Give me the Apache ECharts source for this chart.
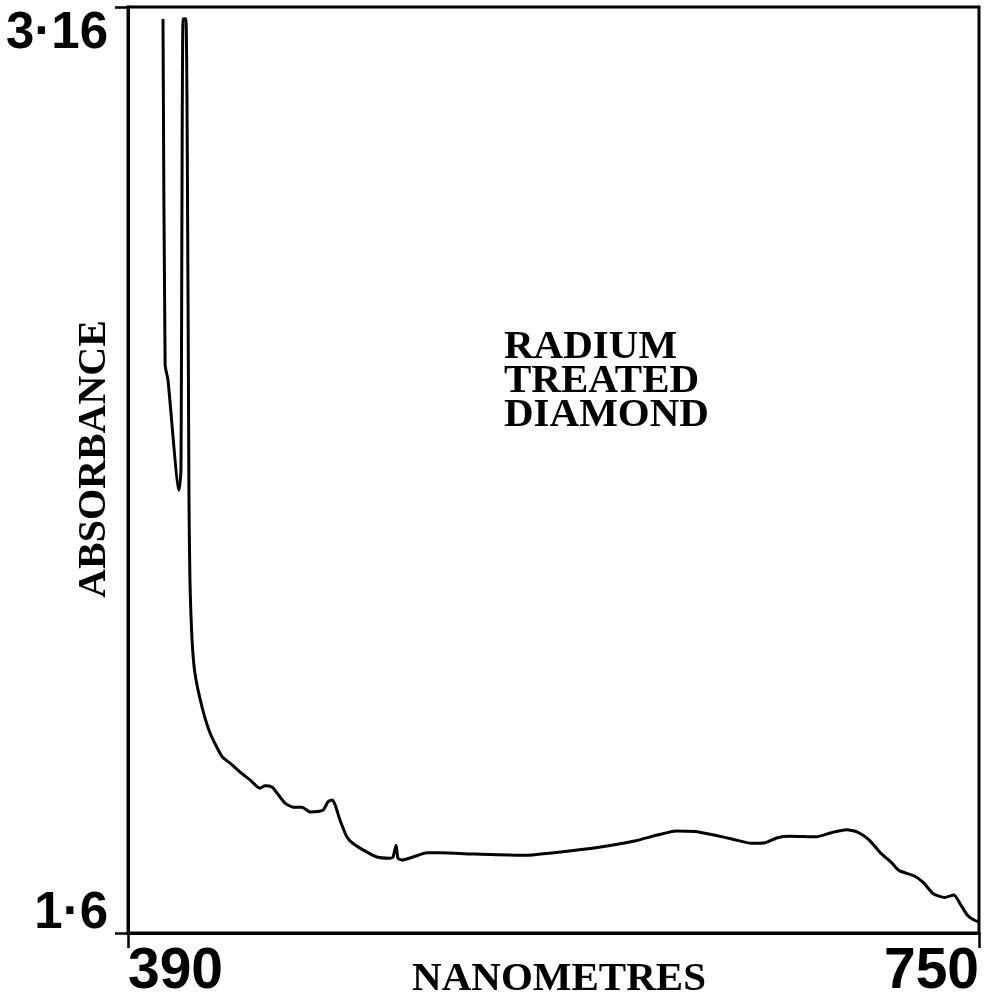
<!DOCTYPE html>
<html>
<head>
<meta charset="utf-8">
<script src="https://cdn.jsdelivr.net/npm/echarts@6/dist/echarts.min.js"></script>
<style>
html,body{margin:0;padding:0;background:#fff;}
#chart{width:993px;height:1001px;}
</style>
</head>
<body>
<div id="chart"></div>
<script>
// Wavelength (nm) and absorbance
var wavelengths = [404.8, 405.7, 406.9, 411.6, 412.4, 413.3, 414.5, 415.4, 415.8, 416.2, 417.1, 418.3, 421.3, 424.7, 429.8, 433.2, 437.4, 441.6, 445.8, 448.0, 450.9, 453.0, 456.4, 459.8, 463.6, 467.0, 472.5, 474.6, 476.3, 477.6, 479.7, 482.6, 484.8, 489.4, 495.3, 500.8, 502.1, 503.4, 504.2, 505.9, 510.6, 516.5, 522.0, 537.0, 557.9, 573.9, 589.9, 604.3, 613.9, 621.9, 629.9, 637.9, 645.9, 653.8, 659.5, 665.1, 669.9, 681.1, 687.5, 693.9, 698.6, 703.5, 708.3, 713.1, 716.2, 722.7, 726.7, 730.7, 735.5, 739.4, 741.9, 745.1, 748.3, 750.0];
var absorbance  = [3.14, 2.557, 2.532, 2.346, 2.38, 3.14, 3.14, 2.666, 2.329, 2.195, 2.094, 2.038, 1.981, 1.937, 1.897, 1.886, 1.871, 1.858, 1.844, 1.848, 1.846, 1.836, 1.819, 1.812, 1.812, 1.804, 1.807, 1.821, 1.824, 1.816, 1.79, 1.762, 1.752, 1.74, 1.728, 1.726, 1.728, 1.748, 1.726, 1.723, 1.728, 1.735, 1.735, 1.733, 1.731, 1.737, 1.745, 1.755, 1.765, 1.772, 1.771, 1.765, 1.758, 1.751, 1.752, 1.761, 1.763, 1.762, 1.769, 1.774, 1.77, 1.757, 1.735, 1.718, 1.705, 1.696, 1.684, 1.666, 1.66, 1.664, 1.65, 1.63, 1.621, 1.619];

var xTickValues = [390, 750];
var xTickLabels = ['390', '750'];
var yTickValues = [1.6, 3.16];
var yTickLabels = ['1·6', '3·16'];
var titleLines = ['RADIUM', 'TREATED', 'DIAMOND'];
var xName = 'NANOMETRES';
var yName = 'ABSORBANCE';

var seriesData = wavelengths.map(function (w, i) { return [w, absorbance[i]]; });

var chart = echarts.init(document.getElementById('chart'), null, {renderer: 'canvas'});
var numFont = '"Liberation Sans", Arial, sans-serif';
var serifFont = '"Liberation Serif", "Times New Roman", serif';

chart.setOption({
  backgroundColor: '#fff',
  animation: false,
  title: {
    text: titleLines.join('\n'),
    left: 504,
    top: 330,
    padding: 0,
    textStyle: {
      fontFamily: serifFont,
      fontWeight: 'bold',
      fontSize: 41,
      lineHeight: 34,
      color: '#000'
    }
  },
  grid: {
    left: 128, right: 14, top: 7, bottom: 68,
    containLabel: false,
    outerBoundsMode: 'none',
    show: true, borderColor: '#000', borderWidth: 3, backgroundColor: 'transparent'
  },
  xAxis: {
    type: 'value',
    min: xTickValues[0],
    max: xTickValues[1],
    splitLine: {show: false},
    axisLine: {show: true, lineStyle: {color: '#000', width: 3}},
    axisTick: {show: true, customValues: xTickValues, length: 15, inside: false, lineStyle: {color: '#000', width: 2.5}},
    axisLabel: {
      customValues: xTickValues,
      margin: 11,
      color: '#000',
      formatter: function (v) {
        var i = xTickValues.indexOf(v);
        return i === 0 ? '{l|' + xTickLabels[0] + '}' : '{r|' + xTickLabels[1] + '}';
      },
      rich: {
        l: {fontFamily: numFont, fontWeight: 'bold', fontSize: 57, color: '#000', padding: [0, 0, 0, 95]},
        r: {fontFamily: numFont, fontWeight: 'bold', fontSize: 57, color: '#000', padding: [0, 95, 0, 0]}
      }
    },
    name: xName,
    nameLocation: 'middle',
    nameGap: 26,
    nameMoveOverlap: false,
    nameTextStyle: {fontFamily: serifFont, fontWeight: 'bold', fontSize: 41, color: '#000', padding: [0, 0, 0, 11]}
  },
  yAxis: {
    type: 'value',
    min: yTickValues[0],
    max: yTickValues[1],
    splitLine: {show: false},
    axisLine: {show: true, lineStyle: {color: '#000', width: 3}},
    axisTick: {show: true, customValues: yTickValues, length: 13, inside: false, lineStyle: {color: '#000', width: 2.5}},
    axisLabel: {
      customValues: yTickValues,
      margin: 20,
      color: '#000',
      formatter: function (v) {
        var i = Math.abs(v - yTickValues[0]) < 0.01 ? 0 : 1;
        return i === 0 ? '{b|' + yTickLabels[0] + '}' : '{t|' + yTickLabels[1] + '}';
      },
      rich: {
        b: {fontFamily: numFont, fontWeight: 'bold', fontSize: 51, color: '#000', padding: [0, 0, 38, 0]},
        t: {fontFamily: numFont, fontWeight: 'bold', fontSize: 51, color: '#000', padding: [54, 0, 0, 0]}
      }
    },
    name: yName,
    nameLocation: 'middle',
    nameRotate: 90,
    nameGap: 13,
    nameMoveOverlap: false,
    nameTextStyle: {fontFamily: serifFont, fontWeight: 'bold', fontSize: 40, color: '#000', padding: [0, 0, 0, 22]}
  },
  series: [{
    type: 'line',
    data: seriesData,
    showSymbol: false,
    smooth: 0.2,
    clip: true,
    lineStyle: {color: '#000', width: 3},
    z: 3
  }]
});
</script>
</body>
</html>
